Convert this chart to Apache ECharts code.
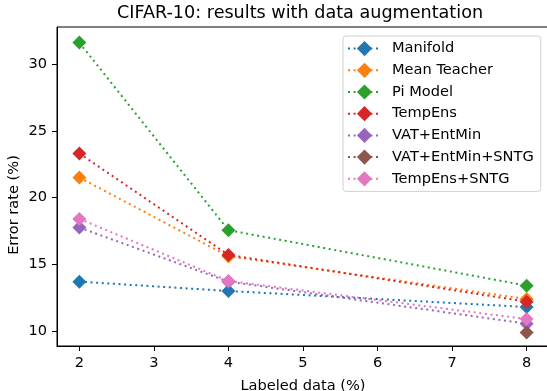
<!DOCTYPE html>
<html><head><meta charset="utf-8">
<script src="https://cdn.jsdelivr.net/npm/echarts@6/dist/echarts.min.js"></script>
<style>html,body{margin:0;padding:0;background:#fff}#c{width:547px;height:391px}</style>
</head><body><div id="c"></div>
<script>
const xValues = [2, 4, 8];
const xTicks = [2, 3, 4, 5, 6, 7, 8];
const yTicks = [10, 15, 20, 25, 30];
const seriesNames = ['Manifold', 'Mean Teacher', 'Pi Model', 'TempEns', 'VAT+EntMin', 'VAT+EntMin+SNTG', 'TempEns+SNTG'];
const manifold = [13.7, 13.0, 11.8];
const meanTeacher = [21.5, 15.6, 12.4];
const piModel = [31.6, 17.55, 13.4];
const tempEns = [23.3, 15.7, 12.2];
const vatEntMin = [17.75, 13.7, 10.55];
const vatEntMinSntg = [null, null, 9.9];
const tempEnsSntg = [18.4, 13.75, 10.9];
const colors = ['#1f77b4', '#ff7f0e', '#2ca02c', '#d62728', '#9467bd', '#8c564b', '#e377c2'];
const allValues = [manifold, meanTeacher, piModel, tempEns, vatEntMin, vatEntMinSntg, tempEnsSntg];

const font = 'DejaVu Sans';
const chart = echarts.init(document.getElementById('c'), null, {renderer: 'canvas'});
const series = seriesNames.map((name, i) => ({
  name: name,
  type: 'line',
  data: xValues.map((x, j) => allValues[i][j] == null ? null : [x, allValues[i][j]]).filter(d => d),
  symbol: 'diamond',
  symbolSize: [14, 14],
  showAllSymbol: true,
  lineStyle: {color: colors[i], width: 2, type: [2, 3.6]},
  itemStyle: {color: colors[i]},
  z: 2 + i,
  animation: false
}));
chart.setOption({
  animation: false,
  textStyle: {fontFamily: font},
  title: {
    text: 'CIFAR-10: results with data augmentation',
    left: 117, top: 4, padding: 0,
    textStyle: {fontFamily: font, fontSize: 17.6, fontWeight: 'normal', color: '#000'}
  },
  grid: {left: 57, top: 27, width: 492, height: 319, show: true, borderColor: '#000', borderWidth: 1,
         backgroundColor: 'transparent', containLabel: false, outerBoundsMode: 'none'},
  legend: {
    orient: 'vertical', left: 343, top: 36,
    padding: [5, 7, 5, 4],
    itemGap: 6.5, itemWidth: 33, itemHeight: 19,
    borderColor: '#d0d0d0', borderWidth: 1, borderRadius: 3,
    backgroundColor: 'rgba(255,255,255,0.8)',
    textStyle: {fontFamily: font, fontSize: 14.6, color: '#000', padding: [0, 0, 0, 6]},
    data: seriesNames
  },
  xAxis: {
    type: 'value', min: 1.7, max: 8.3,
    name: 'Labeled data (%)', nameLocation: 'middle', nameGap: 32.5,
    nameTextStyle: {fontFamily: font, fontSize: 14.6, color: '#000'},
    axisLine: {show: true, onZero: false, lineStyle: {color: '#000', width: 1}},
    axisTick: {show: true, length: 5, lineStyle: {color: '#000'}, customValues: xTicks},
    axisLabel: {fontFamily: font, fontSize: 14.6, color: '#000', margin: 10, customValues: xTicks},
    splitLine: {show: false}
  },
  yAxis: {
    type: 'value', min: 8.88, max: 32.77,
    axisLine: {show: true, onZero: false, lineStyle: {color: '#000', width: 1}},
    axisTick: {show: true, length: 5, lineStyle: {color: '#000'}, customValues: yTicks},
    axisLabel: {fontFamily: font, fontSize: 14.6, color: '#000', margin: 10, customValues: yTicks},
    splitLine: {show: false}
  },
  graphic: [{
    type: 'text', x: 14, y: 205, rotation: Math.PI / 2,
    style: {text: 'Error rate (%)', font: '14.6px "DejaVu Sans"', fill: '#000', align: 'center', verticalAlign: 'middle'}
  }],
  series: series
});
</script></body></html>
